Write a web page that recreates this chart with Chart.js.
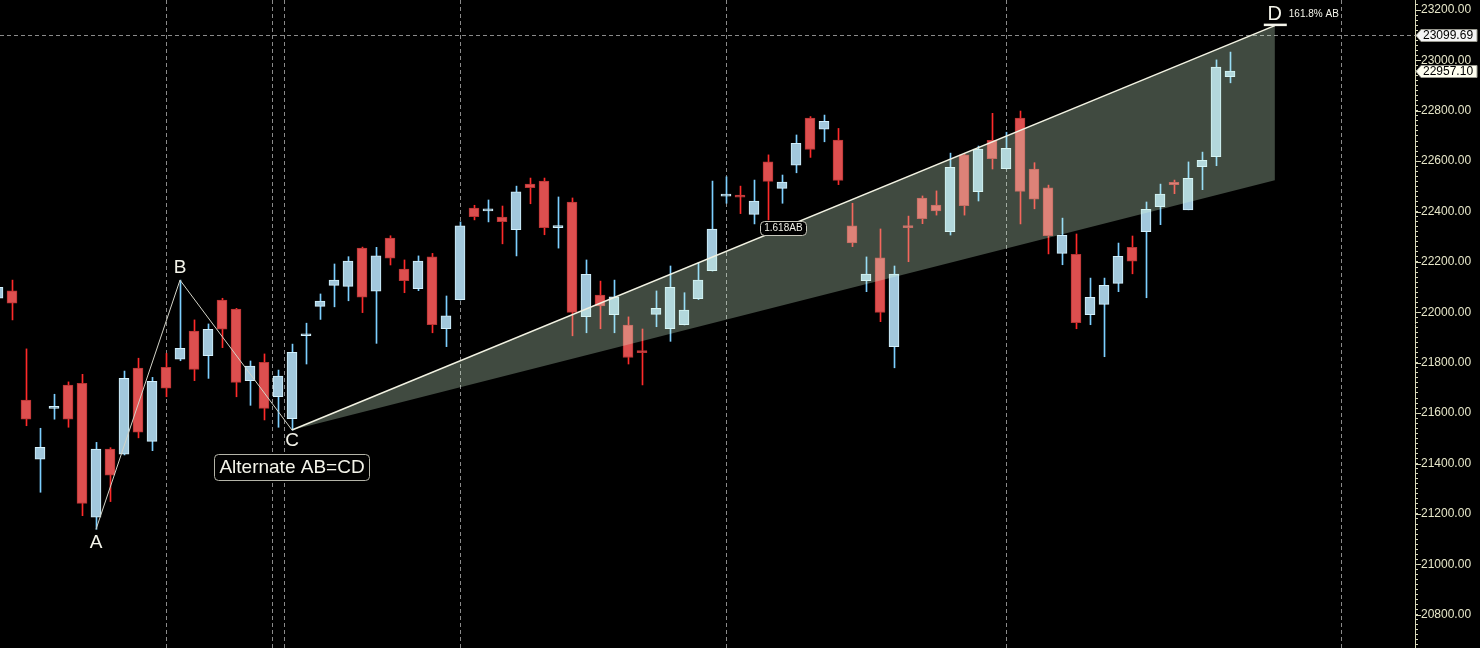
<!DOCTYPE html>
<html><head><meta charset="utf-8">
<script src="https://cdn.jsdelivr.net/npm/chart.js@4.4.0/dist/chart.umd.min.js"></script>
<style>html,body{margin:0;padding:0;background:#000;overflow:hidden}#wrap{position:relative;width:1480px;height:648px}</style>
</head><body><div id="wrap"><canvas id="c"></canvas></div>
<script>
// candle index (session number)
const candleIdx = [0,1,2,3,4,5,6,7,8,9,10,11,12,13,14,15,16,17,18,19,20,21,22,23,24,25,26,27,28,29,30,31,32,33,34,35,36,37,38,39,40,41,42,43,44,45,46,47,48,49,50,51,52,53,54,55,56,57,58,59,60,61,62,63,64,65,66,67,68,69,70,71,72,73,74,75,76,77,78,79,80,81,82,83,84,85,86,87,88];
const openP  = [22056,22085,21652,21417,21619,21711,21718,21187,21457,21437,21779,21488,21782,21814,21926,21828,22049,22013,21729,21802,21665,21578,21907,22024,22107,22103,22255,22084,22295,22172,22094,22220,21935,22050,22414,22403,22378,22328,22509,22521,22336,22438,21983,22069,21991,21950,21847,21992,21935,21951,22054,22165,22461,22465,22389,22597,22492,22584,22771,22727,22684,22343,22126,22216,21864,22343,22454,22426,22320,22625,22479,22683,22570,22771,22569,22494,22234,22230,21991,22032,22115,22258,22320,22419,22516,22407,22578,22618,22935];
const highP  = [22112,22128,21855,21540,21675,21724,21754,21484,21463,21767,21818,21742,21837,22128,21970,21954,22056,22016,21807,21835,21771,21874,21957,22073,22192,22221,22259,22258,22304,22208,22224,22234,22065,22359,22425,22446,22422,22501,22533,22533,22458,22454,22208,22124,22128,21982,21934,22085,22184,22078,22197,22521,22538,22501,22525,22625,22545,22704,22777,22783,22730,22433,22220,22331,22184,22382,22462,22482,22632,22629,22660,22790,22715,22799,22594,22505,22374,22311,22136,22136,22275,22303,22438,22509,22525,22597,22636,23002,23033];
const lowP   = [22041,21970,21550,21286,21576,21544,21193,21139,21249,21434,21502,21451,21665,21808,21729,21738,21860,21665,21631,21573,21544,21533,21795,21972,22022,22046,21999,21877,22188,22078,22086,21919,21864,22049,22367,22359,22272,22224,22431,22308,22255,21907,21919,21935,21919,21795,21712,21943,21885,21950,22051,22164,22433,22392,22351,22367,22433,22554,22615,22677,22507,22261,22082,21963,21780,22201,22352,22386,22307,22386,22442,22569,22569,22351,22411,22232,22189,21935,21951,21824,22082,22153,22058,22348,22471,22407,22487,22582,22911];
const closeP = [22099,22036,21576,21464,21624,21576,21242,21457,21354,21738,21524,21726,21699,21857,21774,21933,21933,21722,21787,21619,21747,21841,21913,22045,22128,22204,22060,22224,22215,22126,22204,21951,21986,22343,22380,22409,22360,22478,22495,22336,22342,22000,22151,22026,22062,21821,21840,22016,22099,22009,22128,22331,22466,22457,22442,22520,22517,22671,22647,22758,22524,22276,22152,22000,22152,22336,22372,22403,22576,22423,22648,22610,22651,22480,22449,22304,22306,21959,22060,22107,22222,22203,22409,22469,22507,22532,22603,22973,22957.10];

// pattern points A, B, C, D (index, price)
const patternLabels = ['A','B','C','D'];
const patternIdx    = [7, 13, 21, 91.2];
const patternPrice  = [21139, 22128, 21533, 23138];
const projLowPrice  = 22524;          // lower edge of projection zone at D
const ratioLabelIdx = 56.1;           // "1.618AB" tag position along upper edge
const hLinePrice = 23099.69;
const lastPrice  = 22957.10;
const gridIdx = [12, 19.6, 20.45, 33, 52, 72, 95.9];
const yTickStep = 20, yLabelStep = 200;

const X_MIN = 2/14, X_MAX = 1417/14;
const Y_MAX = 23239.7, Y_MIN = 20667.9;

const up = candleIdx.map(i => closeP[i] >= openP[i]);
const bodies = candleIdx.map(i => ({x: i, y: [Math.min(openP[i], closeP[i]), Math.max(openP[i], closeP[i])]}));
const wicks  = candleIdx.map(i => ({x: i, y: [lowP[i], highP[i]]}));

const FONT = '"Liberation Sans", Arial, sans-serif';

const overlay = {
  id: 'overlay',
  beforeDatasetsDraw(chart) {
    const {ctx, chartArea: a, scales: {x, y}} = chart;
    ctx.save();
    ctx.strokeStyle = '#8a8a8a'; ctx.lineWidth = 1; ctx.setLineDash([4, 3]);
    gridIdx.forEach(v => {
      const px = Math.round(x.getPixelForValue(v)) + 0.5;
      ctx.beginPath(); ctx.moveTo(px, a.top); ctx.lineTo(px, a.bottom); ctx.stroke();
    });
    const py = Math.round(y.getPixelForValue(hLinePrice)) + 0.5;
    ctx.beginPath(); ctx.moveTo(a.left, py); ctx.lineTo(a.right, py); ctx.stroke();
    ctx.restore();
  },
  afterDatasetsDraw(chart) {
    const {ctx, scales: {x, y}} = chart;
    const P = k => [x.getPixelForValue(patternIdx[k]), y.getPixelForValue(patternPrice[k])];
    const [ax, ay] = P(0), [bx, by] = P(1), [cx, cy] = P(2), [dx, dy] = P(3);
    const dly = y.getPixelForValue(projLowPrice);
    ctx.save();
    ctx.fillStyle = 'rgba(222,255,222,0.29)';
    ctx.beginPath(); ctx.moveTo(cx, cy); ctx.lineTo(dx, dy); ctx.lineTo(dx, dly); ctx.closePath(); ctx.fill();
    ctx.strokeStyle = '#f2f2e2'; ctx.lineWidth = 1.5;
    ctx.beginPath(); ctx.moveTo(cx, cy); ctx.lineTo(dx, dy); ctx.stroke();
    ctx.strokeStyle = '#d4d4c8'; ctx.lineWidth = 1;
    ctx.beginPath(); ctx.moveTo(ax, ay); ctx.lineTo(bx, by); ctx.lineTo(cx, cy); ctx.stroke();
    ctx.fillStyle = '#f4f4ea'; ctx.textAlign = 'center'; ctx.textBaseline = 'middle';
    ctx.font = '19px ' + FONT;
    ctx.fillText(patternLabels[0], ax, ay + 13);
    ctx.fillText(patternLabels[1], bx, by - 12);
    ctx.fillText(patternLabels[2], cx, cy + 11);
    ctx.font = '20px ' + FONT;
    ctx.fillText(patternLabels[3], dx, dy - 11);
    ctx.fillRect(dx - 11, dy - 2, 23, 2.5);
    ctx.font = '10px ' + FONT; ctx.textAlign = 'left';
    ctx.fillText('161.8% AB', dx + 14, dy - 11);
    ctx.font = '19px ' + FONT; ctx.textAlign = 'center';
    const t = 'Alternate AB=CD', tw = ctx.measureText(t).width;
    const bxC = cx, byC = cy + 37;
    ctx.fillStyle = '#000'; ctx.strokeStyle = '#b4b4a8';
    ctx.beginPath(); ctx.roundRect(Math.round(bxC - tw / 2 - 5) + 0.5, Math.round(byC - 13) + 0.5, Math.round(tw + 10), 26, 4); ctx.fill(); ctx.stroke();
    ctx.fillStyle = '#f4f4ea'; ctx.fillText(t, bxC, byC + 1);
    const rx = x.getPixelForValue(ratioLabelIdx);
    const ry = cy + (dy - cy) * (rx - cx) / (dx - cx);
    ctx.font = '10px ' + FONT;
    const rw = ctx.measureText('1.618AB').width + 8;
    ctx.fillStyle = '#000'; ctx.strokeStyle = '#c8c8bc';
    ctx.beginPath(); ctx.roundRect(Math.round(rx - rw / 2) + 0.5, Math.round(ry - 7) + 0.5, Math.round(rw), 14, 4); ctx.fill(); ctx.stroke();
    ctx.fillStyle = '#eeeee4'; ctx.fillText('1.618AB', rx, ry + 0.5);
    ctx.restore();
  },
  afterDraw(chart) {
    const {ctx, chartArea: a, scales: {y}} = chart;
    ctx.save();
    ctx.strokeStyle = '#d8d8b8'; ctx.lineWidth = 1;
    y.ticks.forEach(t => {
      if (Math.round(t.value) % yLabelStep === 0) {
        const py = Math.round(y.getPixelForValue(t.value)) + 0.5;
        ctx.beginPath(); ctx.moveTo(a.right, py); ctx.lineTo(a.right + 6, py); ctx.stroke();
      }
    });
    const tag = (price, bg) => {
      const py = Math.round(y.getPixelForValue(price)) + 0.5;
      const l = a.right + 1, r = 1477;
      ctx.fillStyle = bg; ctx.strokeStyle = '#9a9a90';
      ctx.beginPath(); ctx.moveTo(l, py); ctx.lineTo(l + 5, py - 6); ctx.lineTo(r, py - 6); ctx.lineTo(r, py + 6); ctx.lineTo(l + 5, py + 6); ctx.closePath();
      ctx.fill(); ctx.stroke();
      ctx.fillStyle = '#000'; ctx.font = '12px ' + FONT; ctx.textAlign = 'left'; ctx.textBaseline = 'middle';
      ctx.fillText(price.toFixed(2), a.right + 8, py + 0.5);
    };
    tag(hLinePrice, '#f4f4f4');
    tag(lastPrice, '#fffff0');
    ctx.restore();
  }
};

new Chart(document.getElementById('c'), {
  type: 'bar',
  data: {
    datasets: [
      { label: 'body', data: bodies, xAxisID: 'x', grouped: false, barThickness: 10, minBarLength: 2,
        backgroundColor: c => up[c.dataIndex] ? '#a2c8dc' : '#dd4f4f',
        borderColor: c => up[c.dataIndex] ? '#d2f0fc' : '#b93434',
        borderWidth: 1, borderSkipped: false },
      { label: 'wick', data: wicks, xAxisID: 'x2', grouped: false, barThickness: 1,
        backgroundColor: c => up[c.dataIndex] ? '#7ccfff' : '#ff2a2a', borderWidth: 0 }
    ]
  },
  options: {
    responsive: true, maintainAspectRatio: false, animation: false,
    layout: { padding: 0 },
    plugins: { legend: { display: false }, tooltip: { enabled: false } },
    scales: {
      x:  { type: 'linear', offset: false, min: X_MIN, max: X_MAX, display: false },
      x2: { type: 'linear', offset: false, min: X_MIN - 0.5 / 14, max: X_MAX - 0.5 / 14, display: false },
      y: {
        type: 'linear', position: 'right', min: Y_MIN, max: Y_MAX,
        afterBuildTicks(s) {
          const t = [];
          for (let v = Math.ceil(s.min / yTickStep) * yTickStep; v <= s.max; v += yTickStep) t.push({ value: v });
          s.ticks = t;
        },
        afterFit(s) { s.width = 65; s.paddingTop = 0; s.paddingBottom = 0; },
        ticks: {
          autoSkip: false, color: '#e6e6c8', padding: 3,
          font: { family: FONT, size: 12 },
          callback: v => (Math.round(v) % yLabelStep === 0) ? Number(v).toFixed(2) : ''
        },
        grid: { drawOnChartArea: false, drawTicks: true, tickLength: 3, tickColor: '#d8d8b8', color: '#d8d8b8' },
        border: { display: true, color: '#d8d8b8' }
      }
    }
  },
  plugins: [overlay]
});
</script>
</body></html>
